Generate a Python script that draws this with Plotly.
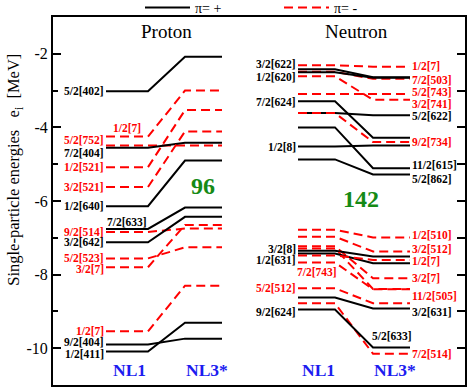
import plotly.graph_objects as go

# ---------------- data ----------------
# Proton single-particle levels (MeV): NL1 and NL3*
p_nl1 = [-3.02, -4.25, -4.49, -4.55, -5.08, -5.62, -6.14, -6.76, -6.84, -7.12, -7.56, -7.80, -9.54, -9.90, -10.09]
p_nl3 = [-2.08, -3.00, -4.49, -4.42, -3.53, -4.11, -4.90, -6.18, -6.75, -6.43, -7.26, -6.65, -8.30, -9.74, -9.31]
p_par = ['+', '-', '-', '+', '-', '-', '+', '+', '-', '+', '-', '-', '-', '+', '+']
p_lab = ['5/2[402]', '1/2[7]', '5/2[752]', '7/2[404]', '1/2[521]', '3/2[521]', '1/2[640]', '7/2[633]',
         '9/2[514]', '3/2[642]', '5/2[523]', '3/2[7]', '1/2[7]', '9/2[404]', '1/2[411]']

# Neutron single-particle levels (MeV): NL1 and NL3*
n_nl1 = [-2.31, -2.42, -2.49, -2.50, -2.61, -3.09, -3.29, -3.61, -3.61, -4.00, -4.52, -4.87,
         -6.78, -6.97, -7.23, -7.35, -7.29, -7.43, -7.48, -7.67, -8.37, -8.62, -8.78, -8.95]
n_nl3 = [-2.35, -2.64, -2.68, -2.65, -3.25, -3.09, -4.28, -3.67, -4.40, -5.11, -4.49, -5.28,
         -6.99, -7.37, -8.10, -7.51, -8.39, -7.69, -7.60, -8.40, -8.78, -8.92, -10.15, -9.98]
n_par = ['-', '+', '-', '+', '-', '-', '+', '+', '-', '+', '+', '+',
         '-', '-', '-', '+', '-', '+', '-', '-', '-', '+', '-', '+']
n_lab_l = ['', '3/2[622]', '', '1/2[620]', '', '', '7/2[624]', '', '', '', '1/2[8]', '',
           '', '', '', '3/2[8]', '', '1/2[631]', '', '7/2[743]', '5/2[512]', '', '', '9/2[624]']
n_lab_r = ['1/2[7]', '', '7/2[503]', '', '3/2[741]', '5/2[743]', '', '5/2[622]', '9/2[734]', '11/2[615]', '', '5/2[862]',
           '1/2[510]', '3/2[512]', '3/2[7]', '', '11/2[505]', '', '1/2[7]', '', '', '3/2[631]', '7/2[514]', '5/2[633]']

legend_names = {'+': 'π= +', '-': 'π= -'}
y_ticks = [-2, -4, -6, -8, -10]
y_ticktext = ['-2', '-4', '-6', '-8', '-10']
model_names = ['NL1', 'NL3*']
nucleus_names = ['Proton', 'Neutron']
shell_gaps = ['96', '142']

# ---------------- layout / style ----------------
W, H = 469, 390
ML, MR, MT, MB = 53, 4, 17, 5
XR = [0, W - ML - MR]
YR = [-11, -1]

P_COLS = (53, 95, 132, 169)     # NL1 start/end, NL3* start/end (x data units)
N_COLS = (245, 282, 320, 357)

SERIF = 'Liberation Serif'
RED = '#ff0000'
styles = {'+': dict(color='black', width=2, dash='solid'),
          '-': dict(color=RED, width=2, dash='9px,5px')}

# label placement: mode + pixel shift
p_lab_pos = {1: ('A', 9), 2: ('L', 5), 3: ('L', -5), 7: ('A', 7), 11: ('L', -2), 13: ('L', 3), 14: ('L', -2)}
n_labl_pos = {1: ('L', 5), 3: ('L', -5), 6: ('L', -1), 15: ('L', 2), 17: ('L', -6.5), 19: ('B', -9.5), 23: ('L', -2)}
n_labr_pos = {0: ('R', 1), 2: ('R', -1), 4: ('R', -4), 5: ('R', 2), 7: ('R', -1), 9: ('R', 3), 11: ('R', -4),
              12: ('R', 2), 13: ('R', 2), 16: ('R', -7), 18: ('R', -1), 21: ('R', -4), 23: ('A3', 11)}

fig = go.Figure()
shown = set()
annotations = []


def add_levels(e1, e2, par, cols, yaxis):
    for a, b, p in zip(e1, e2, par):
        st = styles[p]
        show = p not in shown
        shown.add(p)
        fig.add_trace(go.Scatter(
            x=[cols[0], cols[1], cols[2], cols[3]], y=[a, a, b, b], yaxis=yaxis,
            mode='lines', line=dict(color=st['color'], width=st['width'], dash=st['dash']),
            name=legend_names[p], legendgroup=p, showlegend=show, hoverinfo='skip'))


def label(text, x, y, yref, color, mode, shift):
    if mode == 'L':
        xa = 'right'
    elif mode == 'R':
        xa = 'left'
    else:
        xa = 'center'
    annotations.append(dict(text=text, x=x, y=y, xref='x', yref=yref, xanchor=xa, yanchor='middle',
                            yshift=shift, showarrow=False, borderpad=0,
                            font=dict(family=SERIF, size=11.5, color=color, weight='bold')))


add_levels(p_nl1, p_nl3, p_par, P_COLS, 'y')
add_levels(n_nl1, n_nl3, n_par, N_COLS, 'y2')

for i, (t, e, p) in enumerate(zip(p_lab, p_nl1, p_par)):
    mode, sh = p_lab_pos.get(i, ('L', 0))
    col = 'black' if p == '+' else RED
    x = P_COLS[0] - 1 if mode == 'L' else (P_COLS[0] + P_COLS[1]) / 2
    label(t, x, e, 'y', col, mode, sh)

for i, (t, e, p) in enumerate(zip(n_lab_l, n_nl1, n_par)):
    if not t:
        continue
    mode, sh = n_labl_pos.get(i, ('L', 0))
    col = 'black' if p == '+' else RED
    x = N_COLS[0] - 1 if mode == 'L' else (N_COLS[0] + N_COLS[1]) / 2
    label(t, x, e, 'y2', col, mode, sh)

for i, (t, e, p) in enumerate(zip(n_lab_r, n_nl3, n_par)):
    if not t:
        continue
    mode, sh = n_labr_pos.get(i, ('R', 0))
    col = 'black' if p == '+' else RED
    x = N_COLS[3] + 1 if mode == 'R' else (N_COLS[2] + N_COLS[3]) / 2
    label(t, x, e, 'y2', col, mode, sh)

# headers, gap numbers, model names
for name, cols in zip(nucleus_names, [P_COLS, N_COLS]):
    annotations.append(dict(text=name, x=(cols[0] + cols[3]) / 2 + 2, y=-1.4, xref='x', yref='y',
                            showarrow=False, font=dict(family=SERIF, size=19, color='black')))
annotations.append(dict(text=shell_gaps[0], x=150, y=-5.6, xref='x', yref='y', showarrow=False,
                        font=dict(family=SERIF, size=24, color='#158a15', weight='bold')))
annotations.append(dict(text=shell_gaps[1], x=308, y=-5.95, xref='x', yref='y', showarrow=False,
                        font=dict(family=SERIF, size=24, color='#158a15', weight='bold')))
for cols in [P_COLS, N_COLS]:
    for k, m in enumerate(model_names):
        xc = (cols[2 * k] + cols[2 * k + 1]) / 2 + (3 if k == 1 else 2)
        annotations.append(dict(text=m, x=xc, y=-10.6, xref='x', yref='y', showarrow=False,
                                font=dict(family=SERIF, size=17.5, color='#1c1cf0', weight='bold')))

# y-axis title
annotations.append(dict(text='Single-particle energies\u00a0\u00a0\u00a0e<sub>i</sub>\u00a0\u00a0[MeV]',
                        x=-(ML - 14) / XR[1], y=0.585, xref='paper', yref='paper', textangle=-90,
                        xanchor='center', yanchor='middle', showarrow=False,
                        font=dict(family=SERIF, size=16.5, color='black')))

fig.update_layout(
    width=W, height=H, margin=dict(l=ML, r=MR, t=MT, b=MB, autoexpand=False),
    plot_bgcolor='white', paper_bgcolor='white',
    showlegend=True,
    legend=dict(orientation='h', xref='container', yref='container', x=140 / W, y=1 - 8 / H,
                xanchor='left', yanchor='middle',
                font=dict(family=SERIF, size=14, color='black'), itemwidth=45,
                entrywidth=79, entrywidthmode='pixels', bgcolor='rgba(0,0,0,0)',
                tracegroupgap=0, itemclick=False),
    xaxis=dict(range=XR, showgrid=False, zeroline=False, showticklabels=False, ticks='',
               showline=True, linecolor='black', linewidth=2, mirror=True, fixedrange=True),
    yaxis=dict(range=YR, showgrid=False, zeroline=False, tickvals=y_ticks, ticktext=y_ticktext,
               ticks='inside', ticklen=8, tickwidth=2, tickcolor='black',
               minor=dict(ticks='inside', dtick=1, ticklen=5, tickwidth=2, tickcolor='black', showgrid=False),
               showline=True, linecolor='black', linewidth=2,
               tickfont=dict(family=SERIF, size=16, color='black'), fixedrange=True),
    yaxis2=dict(range=YR, overlaying='y', side='right', showgrid=False, zeroline=False,
                tickmode='linear', tick0=-10, dtick=1, ticks='inside', ticklen=8, tickwidth=2,
                tickcolor='black', showticklabels=False, showline=True, linecolor='black',
                linewidth=2, fixedrange=True),
    annotations=annotations,
)

fig.write_html('out.html', config={'displayModeBar': False},
               post_script="document.body.style.margin='0';")
